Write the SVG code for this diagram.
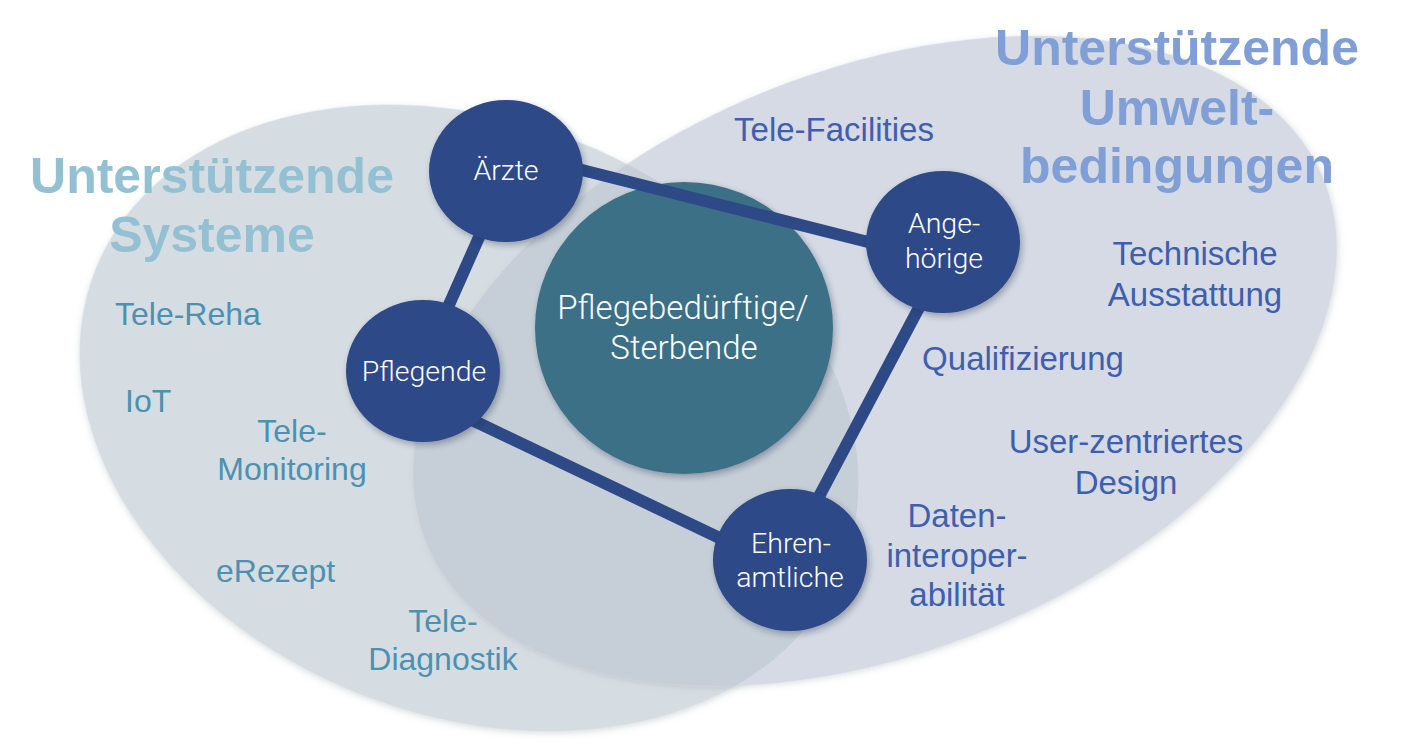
<svg xmlns="http://www.w3.org/2000/svg" width="1403" height="743" viewBox="0 0 1403 743">
  <defs>
    <filter id="soft" x="-10%" y="-10%" width="120%" height="120%">
      <feDropShadow dx="1" dy="2" stdDeviation="3" flood-color="#6b7a8a" flood-opacity="0.25"/>
    </filter>
    <filter id="shadow" x="-20%" y="-20%" width="140%" height="140%">
      <feDropShadow dx="2" dy="3" stdDeviation="3" flood-color="#1a2a40" flood-opacity="0.35"/>
    </filter>
    <clipPath id="leftClip">
      <ellipse cx="469" cy="418" rx="402" ry="297" transform="rotate(21.6 469 418)"/>
    </clipPath>
  </defs>
  <style>
    .title-l { font-family: "Liberation Sans", Arial, sans-serif; font-weight: bold; font-size: 50px; fill: #94c0d4; text-anchor: middle; }
    .title-r { font-family: "Liberation Sans", Arial, sans-serif; font-weight: bold; font-size: 50px; fill: #809fd7; text-anchor: middle; }
    .lab-l { font-family: "Liberation Sans", Arial, sans-serif; font-size: 32px; fill: #4b91b1; }
    .lab-r { font-family: "Liberation Sans", Arial, sans-serif; font-size: 33px; fill: #3e5fae; text-anchor: middle; }
    .node { fill: #2d4a87; filter: url(#shadow); }
    .ntxt { font-family: Roboto, "Liberation Sans", sans-serif; font-weight: 300; font-size: 28.5px; fill: #ffffff; text-anchor: middle; }
    .ctxt { font-family: Roboto, "Liberation Sans", sans-serif; font-weight: 300; font-size: 33px; fill: #ffffff; text-anchor: middle; }
    .conn { stroke: #2d4a87; stroke-width: 12; fill: none; }
  </style>

  <g id="ellipse-systeme">
    <ellipse cx="469" cy="418" rx="402" ry="297" transform="rotate(21.6 469 418)" fill="#d6dde2" filter="url(#soft)"/>
  </g>
  <g id="ellipse-umwelt">
    <ellipse cx="875" cy="361" rx="484" ry="291" transform="rotate(-22 875 361)" fill="#d5dae4" filter="url(#soft)"/>
  </g>
  <g id="overlap" clip-path="url(#leftClip)">
    <ellipse cx="875" cy="361" rx="484" ry="291" transform="rotate(-22 875 361)" fill="#c6ced7"/>
  </g>

  <g id="labels-systeme">
    <text class="title-l" x="212" y="193">Unterstützende</text>
    <text class="title-l" x="212" y="252">Systeme</text>
    <text class="lab-l" x="115" y="325">Tele-Reha</text>
    <text class="lab-l" x="125" y="412">IoT</text>
    <text class="lab-l" x="292" y="442" text-anchor="middle">Tele-</text>
    <text class="lab-l" x="292" y="480" text-anchor="middle">Monitoring</text>
    <text class="lab-l" x="216" y="582">eRezept</text>
    <text class="lab-l" x="443" y="632" text-anchor="middle">Tele-</text>
    <text class="lab-l" x="443" y="670" text-anchor="middle">Diagnostik</text>
  </g>

  <g id="labels-umwelt">
    <text class="title-r" x="1177" y="65">Unterstützende</text>
    <text class="title-r" x="1177" y="125">Umwelt-</text>
    <text class="title-r" x="1177" y="183">bedingungen</text>
    <text class="lab-r" x="834" y="141">Tele-Facilities</text>
    <text class="lab-r" x="1195" y="265">Technische</text>
    <text class="lab-r" x="1195" y="306">Ausstattung</text>
    <text class="lab-r" x="1023" y="370">Qualifizierung</text>
    <text class="lab-r" x="1126" y="453">User-zentriertes</text>
    <text class="lab-r" x="1126" y="494">Design</text>
    <text class="lab-r" x="957" y="527">Daten-</text>
    <text class="lab-r" x="957" y="567">interoper-</text>
    <text class="lab-r" x="957" y="606">abilität</text>
  </g>

  <g id="node-center">
    <ellipse cx="684" cy="328" rx="149" ry="146" fill="#3b6f86" filter="url(#shadow)"/>
    <text class="ctxt" x="683" y="319">Pflegebedürftige/</text>
    <text class="ctxt" x="684" y="359">Sterbende</text>
  </g>

  <g id="connectors">
    <line class="conn" x1="570" y1="167" x2="880" y2="245"/>
    <line class="conn" x1="484" y1="226" x2="444" y2="316"/>
    <line class="conn" x1="470" y1="419" x2="728" y2="542"/>
    <line class="conn" x1="922" y1="302" x2="814" y2="506"/>
  </g>

  <g id="node-aerzte">
    <ellipse class="node" cx="506" cy="171" rx="77" ry="71"/>
    <text class="ntxt" x="506" y="180">Ärzte</text>
  </g>
  <g id="node-angehoerige">
    <ellipse class="node" cx="943" cy="242" rx="77" ry="71"/>
    <text class="ntxt" x="944" y="233">Ange-</text>
    <text class="ntxt" x="944" y="268">hörige</text>
  </g>
  <g id="node-pflegende">
    <ellipse class="node" cx="423" cy="371" rx="77" ry="71"/>
    <text class="ntxt" x="424" y="381">Pflegende</text>
  </g>
  <g id="node-ehrenamtliche">
    <ellipse class="node" cx="790" cy="560" rx="77" ry="71"/>
    <text class="ntxt" x="791" y="553">Ehren-</text>
    <text class="ntxt" x="790" y="587">amtliche</text>
  </g>
</svg>
